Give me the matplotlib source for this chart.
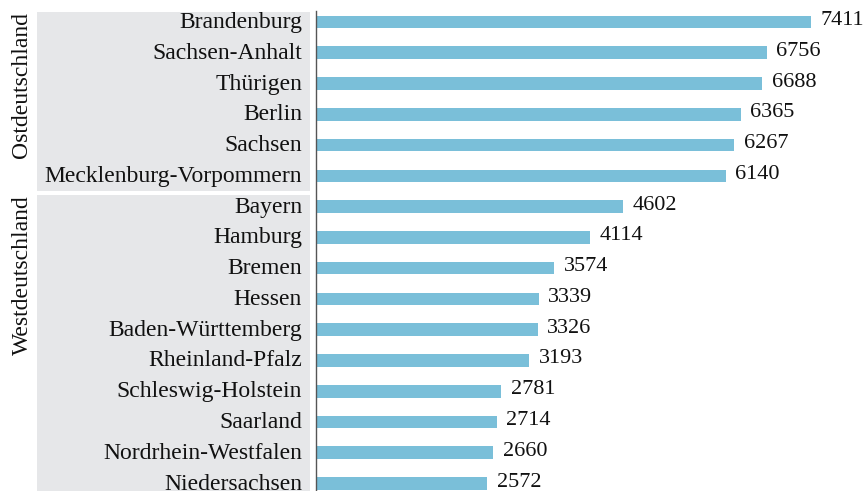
import matplotlib
matplotlib.use("Agg")
import matplotlib.pyplot as plt
from matplotlib.transforms import blended_transform_factory, ScaledTranslation
from matplotlib.patches import Rectangle

states = ["Brandenburg", "Sachsen-Anhalt", "Thürigen", "Berlin", "Sachsen",
          "Mecklenburg-Vorpommern", "Bayern", "Hamburg", "Bremen", "Hessen",
          "Baden-Württemberg", "Rheinland-Pfalz", "Schleswig-Holstein",
          "Saarland", "Nordrhein-Westfalen", "Niedersachsen"]
values = [7411, 6756, 6688, 6365, 6267, 6140, 4602, 4114, 3574, 3339,
          3326, 3193, 2781, 2714, 2660, 2572]
groups = ["Ostdeutschland", "Westdeutschland"]
group_sizes = [6, 10]

plt.rcParams['font.family'] = ['Liberation Serif', 'DejaVu Serif']

W, H = 867, 491
row_h = 30.77
first_c = 22.0
top_px = 10.7
fig = plt.figure(figsize=(W / 100, H / 100), dpi=100)
ax_left = 315.5 / W
ax_top = 1 - top_px / H
ax = fig.add_axes([ax_left, 0, 1 - ax_left, ax_top])

bar_color = "#7abfd9"
ypos = list(range(len(states)))
ax.barh(ypos, values, height=0.41, color=bar_color)
up = ScaledTranslation(0, 1.5 / 100, fig.dpi_scale_trans)
for y, v in zip(ypos, values):
    ax.text(v + 145, y, str(v), va="center", ha="left", fontsize=16,
            color="#111111", transform=ax.transData + up)

ax.set_xlim(0, (W - 315.5) / 0.0668)
ax.set_ylim((H - first_c) / row_h, -(first_c - top_px) / row_h)
ax.set_yticks([])
ax.set_xticks([])
for s in ["top", "right", "bottom"]:
    ax.spines[s].set_visible(False)
ax.spines["left"].set_color("#555555")
ax.spines["left"].set_linewidth(1.0)

# category labels (right-aligned left of the axis)
tr = blended_transform_factory(fig.transFigure, ax.transData)
for y, s in zip(ypos, states):
    ax.text(302 / W, y, s, ha="right", va="center_baseline", fontsize=17,
            color="#111111", transform=tr + ScaledTranslation(0, 2 / 100, fig.dpi_scale_trans),
            clip_on=False)

# group panels
panel_color = "#e6e7e9"
panel_bounds = [(-(first_c - 12) / row_h, (191 - first_c) / row_h),
                ((195 - first_c) / row_h, 16.0)]
for g, (top, bot) in zip(groups, panel_bounds):
    rect = Rectangle((37 / W, top), (310 - 37) / W, bot - top, transform=tr,
                     facecolor=panel_color, edgecolor="none", clip_on=False, zorder=-5)
    fig.add_artist(rect)
    fig.text(22 / W, top, g, transform=tr, rotation=90, ha="center",
             va="top", fontsize=17, color="#111111")

fig.savefig("out.png", dpi=100)
